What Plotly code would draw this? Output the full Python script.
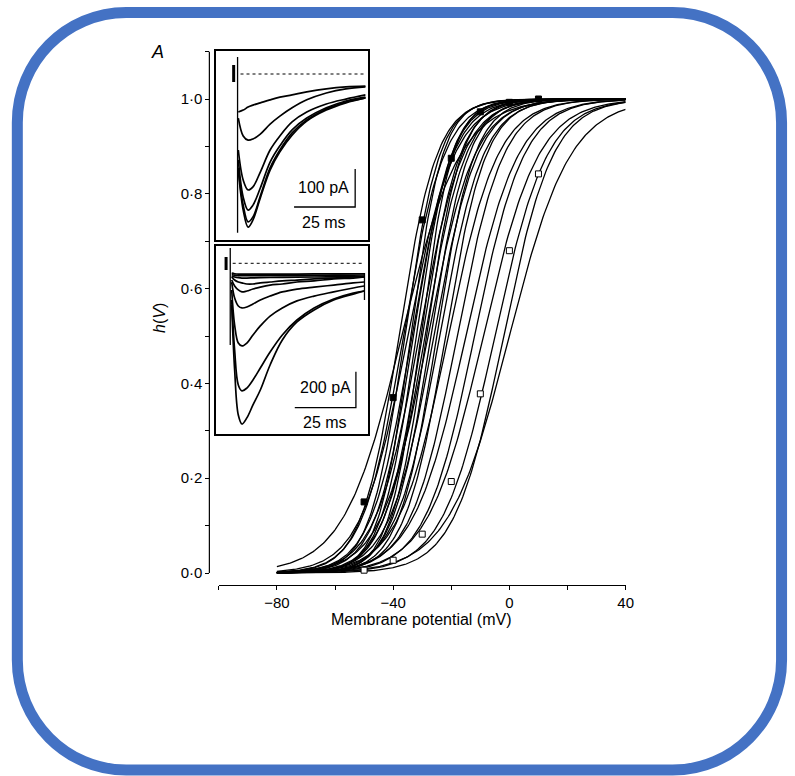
import numpy as np
import plotly.graph_objects as go

W, H = 795, 776

# ---------------- main panel data ----------------
# Boltzmann fits h(V) = 1 / (1 + exp((V_half - V) / slope)) for each cell
V_HALF = [-37, -38, -36.5, -36, -35, -34, -33.5, -33, -32, -31, -30.5, -30, -29,
          -28.5, -28, -27, -26, -25, -24, -22, -21, -18, -15, -12, -9, -5, -2, 0]
SLOPE = [10, 6.5, 7, 6, 8, 5.5, 7, 6.5, 6, 7.5, 5.5, 6.5, 7,
         6, 8, 6.5, 7.5, 6.5, 7.5, 7, 8.5, 8, 9, 8.5, 9.5, 9, 8.5, 10.5]
V_START, V_END = -80, 40

FILLED_V = [-50, -40, -30, -20, -10, 0, 10]
FILLED_H = [0.15, 0.37, 0.745, 0.875, 0.973, 0.993, 1.0]
OPEN_V = [-50, -40, -30, -20, -10, 0, 10]
OPEN_H = [0.006, 0.027, 0.082, 0.193, 0.378, 0.68, 0.842]

X_TICKS = [-100, -80, -60, -40, -20, 0, 20, 40]
X_TICKTEXT = ["", "\u221280", "", "\u221240", "", "0", "", "40"]
Y_TICKS = [0, 0.1, 0.2, 0.3, 0.4, 0.5, 0.6, 0.7, 0.8, 0.9, 1.0, 1.1]
Y_TICKTEXT = ["0\u00b70", "", "0\u00b72", "", "0\u00b74", "", "0\u00b76", "", "0\u00b78", "", "1\u00b70", ""]

# ---------------- inset 1 (100 pA / 25 ms) ----------------
T1 = [9, 11, 13, 15, 18, 22, 26, 31, 37, 45, 53, 61]  # ms
I1 = [
    [-100, -95, -87, -82, -76, -68, -61, -55, -47, -39, -34, -32],
    [-116, -163, -174, -171, -158, -132, -111, -89, -68, -50, -39, -34],
    [-200, -279, -305, -297, -258, -200, -163, -126, -100, -79, -66, -55],
    [-226, -324, -358, -345, -300, -232, -189, -147, -116, -89, -71, -61],
    [-247, -345, -389, -376, -321, -247, -200, -155, -121, -92, -74, -63],
    [-253, -358, -403, -384, -326, -253, -205, -161, -124, -95, -76, -63],
]  # pA

# ---------------- inset 2 (200 pA / 25 ms) ----------------
T2 = [6.3, 7.5, 9, 10.5, 12.5, 15, 18, 22, 27, 33, 40, 48, 56, 60.5]  # ms
I2 = [
    [-55, -58, -60, -60, -60, -60, -60, -60, -60, -60, -59, -59, -58, -58],
    [-62, -66, -68, -69, -69, -69, -69, -68, -68, -67, -67, -66, -66, -65],
    [-70, -76, -80, -82, -82, -81, -80, -79, -78, -77, -76, -75, -74, -73],
    [-76, -93, -104, -109, -115, -115, -109, -104, -98, -93, -87, -82, -76, -76],
    [-93, -126, -148, -159, -154, -143, -132, -121, -115, -104, -98, -87, -82, -76],
    [-104, -193, -237, -248, -243, -226, -204, -182, -159, -143, -132, -121, -109, -104],
    [-148, -343, -443, -459, -443, -398, -348, -293, -248, -209, -182, -159, -137, -126],
    [-204, -482, -676, -709, -693, -648, -582, -493, -398, -315, -248, -198, -165, -154],
    [-232, -593, -843, -893, -859, -787, -704, -565, -426, -326, -259, -204, -171, -154],
]  # pA


def px(x):
    return x / W


def py(y):
    return 1 - y / H


FONT = "Liberation Sans, Arial, Helvetica, sans-serif"
fig = go.Figure()

# Boltzmann curves
V = np.linspace(V_START, V_END, 241)
for vh, k in zip(V_HALF, SLOPE):
    h = 1.0 / (1.0 + np.exp((vh - V) / k))
    fig.add_trace(go.Scatter(x=V, y=h, mode="lines", line=dict(color="black", width=1.3),
                             showlegend=False, hoverinfo="skip", xaxis="x", yaxis="y"))

fig.add_trace(go.Scatter(x=FILLED_V, y=FILLED_H, mode="markers",
                         marker=dict(symbol="square", size=6, color="black",
                                     line=dict(color="black", width=1)),
                         cliponaxis=False, showlegend=False, xaxis="x", yaxis="y"))
fig.add_trace(go.Scatter(x=OPEN_V, y=OPEN_H, mode="markers",
                         marker=dict(symbol="square", size=6, color="white",
                                     line=dict(color="black", width=1)),
                         cliponaxis=False, showlegend=False, xaxis="x", yaxis="y"))

# inset 1 traces
for tr in I1:
    fig.add_trace(go.Scatter(x=T1, y=tr, mode="lines", line=dict(color="black", width=1.7, shape="spline"),
                             showlegend=False, hoverinfo="skip", xaxis="x2", yaxis="y2"))
# artefacts / baseline / scale bars inset 1
fig.add_trace(go.Scatter(x=[8.7, 8.7], y=[45, -418], mode="lines", line=dict(color="black", width=1.3),
                         showlegend=False, xaxis="x2", yaxis="y2"))
fig.add_trace(go.Scatter(x=[7.1, 7.1], y=[24, -21], mode="lines", line=dict(color="black", width=3),
                         showlegend=False, xaxis="x2", yaxis="y2"))
fig.add_trace(go.Scatter(x=[9.9, 60.5], y=[0, 0], mode="lines", line=dict(color="black", width=1, dash="dot"),
                         showlegend=False, xaxis="x2", yaxis="y2"))
fig.add_trace(go.Scatter(x=[31.8, 56.8, 56.8], y=[-350, -350, -250], mode="lines",
                         line=dict(color="black", width=1.3), showlegend=False, xaxis="x2", yaxis="y2"))

# inset 2 traces
for tr in I2:
    fig.add_trace(go.Scatter(x=T2, y=tr, mode="lines", line=dict(color="black", width=1.7, shape="spline"),
                             showlegend=False, hoverinfo="skip", xaxis="x3", yaxis="y3"))
fig.add_trace(go.Scatter(x=[5.7, 5.7], y=[85, -454], mode="lines", line=dict(color="black", width=1.3),
                         showlegend=False, xaxis="x3", yaxis="y3"))
fig.add_trace(go.Scatter(x=[4.0, 4.0], y=[35, -37], mode="lines", line=dict(color="black", width=3),
                         showlegend=False, xaxis="x3", yaxis="y3"))
fig.add_trace(go.Scatter(x=[60.6, 60.6], y=[-54, -204], mode="lines", line=dict(color="black", width=1.3),
                         showlegend=False, xaxis="x3", yaxis="y3"))
fig.add_trace(go.Scatter(x=[6.7, 60.5], y=[0, 0], mode="lines", line=dict(color="black", width=1, dash="dot"),
                         showlegend=False, xaxis="x3", yaxis="y3"))
fig.add_trace(go.Scatter(x=[32.1, 57.1, 57.1], y=[-802, -802, -602], mode="lines",
                         line=dict(color="black", width=1.3), showlegend=False, xaxis="x3", yaxis="y3"))

tickfont = dict(family=FONT, size=15, color="black")
inset_ax = dict(showline=True, mirror=True, linecolor="black", linewidth=1.7, ticks="",
                showticklabels=False, showgrid=False, zeroline=False, fixedrange=True)

fig.update_layout(
    width=W, height=H, autosize=False,
    margin=dict(l=0, r=0, t=0, b=0),
    paper_bgcolor="white", plot_bgcolor="white",
    showlegend=False,
    xaxis=dict(domain=[px(221), px(632)], range=[-100, 40], anchor="free", position=py(585),
               showline=True, linecolor="black", linewidth=1.2, ticks="outside", ticklen=4,
               tickcolor="black", tickvals=X_TICKS, ticktext=X_TICKTEXT, tickfont=tickfont,
               showgrid=False, zeroline=False),
    yaxis=dict(domain=[py(582.5), py(51.6)], range=[-0.02, 1.1], anchor="free", position=px(211.5),
               showline=False, ticks="outside", ticklen=4, tickcolor="black",
               tickvals=Y_TICKS, ticktext=Y_TICKTEXT, tickfont=tickfont,
               showgrid=False, zeroline=False),
    xaxis2=dict(domain=[px(218.5), px(372)], range=[0, 62.15], anchor="y2", **inset_ax),
    yaxis2=dict(domain=[py(240.3), py(50.7)], range=[-437.6, 61.3], anchor="x2", **inset_ax),
    xaxis3=dict(domain=[px(218.5), px(372)], range=[0, 62.15], anchor="y3", **inset_ax),
    yaxis3=dict(domain=[py(433.7), py(245.7)], range=[-946.7, 97.8], anchor="x3", **inset_ax),
)

# y axis line (detached spine) from 0 to 1.1
fig.add_shape(type="line", xref="paper", yref="y", x0=px(211.5), x1=px(211.5), y0=0, y1=1.1,
              line=dict(color="black", width=1.2))

# rounded blue frame
r = 110
L, T, R, B = 17.5, 12.5, 789.5, 770
k = 0.5523 * r
pts = [
    f"M {px(L)},{py(T + r)}",
    f"C {px(L)},{py(T + r - k)} {px(L + r - k)},{py(T)} {px(L + r)},{py(T)}",
    f"L {px(R - r)},{py(T)}",
    f"C {px(R - r + k)},{py(T)} {px(R)},{py(T + r - k)} {px(R)},{py(T + r)}",
    f"L {px(R)},{py(B - r)}",
    f"C {px(R)},{py(B - r + k)} {px(R - r + k)},{py(B)} {px(R - r)},{py(B)}",
    f"L {px(L + r)},{py(B)}",
    f"C {px(L + r - k)},{py(B)} {px(L)},{py(B - r + k)} {px(L)},{py(B - r)}",
    "Z",
]
fig.add_shape(type="path", xref="paper", yref="paper", path=" ".join(pts),
              line=dict(color="#4472C4", width=11), fillcolor="rgba(0,0,0,0)", layer="above")

ann_font = dict(family=FONT, size=16, color="black")
fig.add_annotation(x=px(426), y=py(630), xref="paper", yref="paper", text="Membrane potential (mV)",
                   showarrow=False, font=ann_font)
fig.add_annotation(x=px(150), y=py(318), xref="paper", yref="paper", text="<i>h</i>(<i>V</i>)",
                   textangle=-90, showarrow=False, font=ann_font)
fig.add_annotation(x=px(151), y=py(40), xref="paper", yref="paper", text="<i>A</i>",
                   showarrow=False, font=dict(family=FONT, size=18, color="black"))
# scale bar labels
fig.add_annotation(x=44, y=-298, xref="x2", yref="y2", text="100 pA", showarrow=False, font=ann_font)
fig.add_annotation(x=44, y=-390, xref="x2", yref="y2", text="25 ms", showarrow=False, font=ann_font)
fig.add_annotation(x=44.5, y=-690, xref="x3", yref="y3", text="200 pA", showarrow=False, font=ann_font)
fig.add_annotation(x=44.5, y=-884, xref="x3", yref="y3", text="25 ms", showarrow=False, font=ann_font)

fig.write_html(
    "out.html",
    config={"displayModeBar": False, "responsive": False},
    post_script="document.body.style.margin='0';document.body.style.padding='0';"
                "document.body.style.overflow='hidden';"
                "document.documentElement.style.overflow='hidden';window.scrollTo(0,0);",
)
